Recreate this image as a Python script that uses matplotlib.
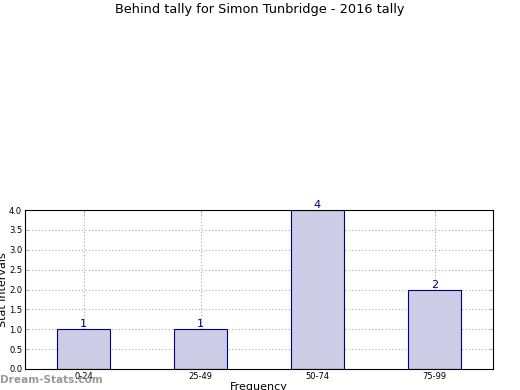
import matplotlib
matplotlib.use("Agg")
import matplotlib.pyplot as plt

categories = ["0-24", "25-49", "50-74", "75-99"]
values = [1, 1, 4, 2]
yticks = [0.0, 0.5, 1.0, 1.5, 2.0, 2.5, 3.0, 3.5, 4.0]

fig = plt.figure(figsize=(5.2, 3.9), dpi=100)
ax = fig.add_axes([25/520, 21/390, 468/520, 159/390])
x = list(range(len(categories)))
bars = ax.bar(x, values, width=0.45, color="#ccccE6", edgecolor="#000080", linewidth=0.8, zorder=2)
for xi, v in zip(x, values):
    ax.text(xi, v, str(v), ha="center", va="bottom", color="#000080", fontsize=8, zorder=3)
ax.set_xlim(-0.5, 3.5)
ax.set_ylim(0, 4)
ax.set_xticks(x)
ax.set_xticklabels(categories, fontsize=6)
ax.set_yticks(yticks)
ax.set_yticklabels([f"{t:.1f}" for t in yticks], fontsize=6)
ax.tick_params(direction="in", top=True, right=True, length=3, width=0.5, color="#aaaaaa", pad=2)
ax.grid(True, linestyle=(0, (1, 2)), color="#aaaaaa", linewidth=0.8, zorder=0)
ax.set_axisbelow(True)
ax.set_xlabel("Frequency", fontsize=8, labelpad=1)
ax.set_ylabel("Stat intervals", fontsize=8, labelpad=1)
for s in ax.spines.values():
    s.set_linewidth(0.8)
fig.text(0.5, 1 - 10/390, "Behind tally for Simon Tunbridge - 2016 tally", ha="center", va="center", fontsize=9.3)
fig.text(0, 10/390, "Dream-Stats.com", ha="left", va="center", fontsize=7.6, color="#999999", fontweight="bold")
fig.savefig("out.png", dpi=100)
